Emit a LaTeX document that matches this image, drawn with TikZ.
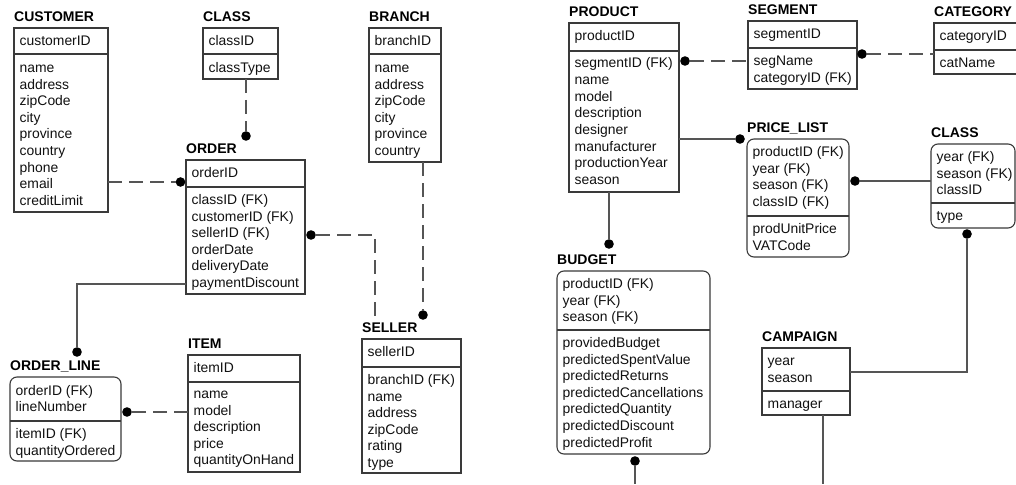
\documentclass[tikz,border=0pt]{standalone}
\usepackage{fontspec}
\setmainfont{Liberation Sans}
\definecolor{boxc}{HTML}{3A3A3A}
\definecolor{linec}{HTML}{555555}
\definecolor{txtc}{HTML}{111111}
\tikzset{
  ent/.style={draw=boxc, line width=1.1pt, inner sep=0pt, outer sep=0pt, anchor=north west},
  rent/.style={ent, rounded corners=7pt},
  lbl/.style={inner sep=0pt, anchor=base west, text=txtc, font=\fontsize{13.9}{16.6}\selectfont},
  ttl/.style={lbl, text=black, font=\bfseries\fontsize{14}{16}\selectfont},
  erdot/.style={circle, fill=black, draw=none, inner sep=0pt, minimum size=9.6pt},
  conn/.style={draw=linec, line width=1.2pt},
  dconn/.style={conn, dash pattern=on 14pt off 7pt},
  divline/.style={draw=boxc, line width=1.1pt}
}
\newcommand\erentity[8]{%
  \node[#8, minimum width={(#4-#2)*1pt}, minimum height={(#6-#3)*1pt}] (#1) at ({#2},{#3}) {};
  \draw[divline] ({#2},{#5}) -- ({#4},{#5});
  \node[ttl] (#1-title) at ({#2},{#3-6.5}) {#7};
}
\newcommand\errows[4]{%
  \foreach \rowtxt [count=\rowidx from 0] in {#4} {%
    \node[lbl] (#1\rowidx) at ({#2+5.5},{#3+\rowidx*16.6}) {\rowtxt};
  }%
}
\begin{document}
\begin{tikzpicture}[x=1pt, y=-1pt]
\useasboundingbox (0,0) rectangle (1016,484);
\fill[white] (0,0) rectangle (1016,484);
\clip (0,0) rectangle (1016,484);

% ---------- left diagram ----------
\erentity{customer}{14}{28}{108}{54}{212}{CUSTOMER}{ent}
\errows{customer-k}{14}{45.5}{customerID}
\errows{customer-a}{14}{72.5}{name,address,zipCode,city,province,country,phone,email,creditLimit}

\erentity{classA}{203}{28}{278}{54}{79}{CLASS}{ent}
\errows{classA-k}{203}{45.5}{classID}
\errows{classA-a}{203}{72.5}{classType}

\erentity{branch}{369}{28}{441}{54}{162}{BRANCH}{ent}
\errows{branch-k}{369}{45.5}{branchID}
\errows{branch-a}{369}{72.5}{name,address,zipCode,city,province,country}

\erentity{order}{186}{160}{305}{187}{294}{ORDER}{ent}
\errows{order-k}{186}{177.5}{orderID}
\errows{order-a}{186}{204.5}{classID (FK),customerID (FK),sellerID (FK),orderDate,deliveryDate,paymentDiscount}

\erentity{seller}{362}{339}{461}{367}{473}{SELLER}{ent}
\errows{seller-k}{362}{356.5}{sellerID}
\errows{seller-a}{362}{384.5}{branchID (FK),name,address,zipCode,rating,type}

\erentity{orderline}{10}{377}{121}{421}{461}{ORDER\_LINE}{rent}
\errows{orderline-k}{10}{395}{orderID (FK),lineNumber}
\errows{orderline-a}{10}{438.5}{itemID (FK),quantityOrdered}

\erentity{item}{188}{355}{300}{382}{472}{ITEM}{ent}
\errows{item-k}{188}{372.5}{itemID}
\errows{item-a}{188}{398.5}{name,model,description,price,quantityOnHand}

% ---------- right diagram ----------
\erentity{product}{569}{23}{679}{51}{192}{PRODUCT}{ent}
\errows{product-k}{569}{40.5}{productID}
\errows{product-a}{569}{68}{segmentID (FK),name,model,description,designer,manufacturer,productionYear,season}

\erentity{segment}{748}{21}{857}{48}{89}{SEGMENT}{ent}
\errows{segment-k}{748}{38.5}{segmentID}
\errows{segment-a}{748}{65.5}{segName,categoryID (FK)}

\erentity{category}{934}{23}{1024}{50}{74}{CATEGORY}{ent}
\errows{category-k}{934}{40.5}{categoryID}
\errows{category-a}{934}{67.5}{catName}

\erentity{pricelist}{747}{139}{849}{216}{257}{PRICE\_LIST}{rent}
\errows{pricelist-k}{747}{156.5}{productID (FK),year (FK),season (FK),classID (FK)}
\errows{pricelist-a}{747}{233.5}{prodUnitPrice,VATCode}

\erentity{classB}{931}{144}{1015}{203}{228}{CLASS}{rent}
\errows{classB-k}{931}{161.5}{year (FK),season (FK),classID}
\errows{classB-a}{931}{220.5}{type}

\erentity{budget}{557}{271}{710}{330}{454}{BUDGET}{rent}
\errows{budget-k}{557}{288.5}{productID (FK),year (FK),season (FK)}
\errows{budget-a}{557}{347.5}{providedBudget,predictedSpentValue,predictedReturns,predictedCancellations,predictedQuantity,predictedDiscount,predictedProfit}

\erentity{campaign}{762}{348}{850}{391}{415}{CAMPAIGN}{ent}
\errows{campaign-k}{762}{365.5}{year,season}
\errows{campaign-a}{762}{408.5}{manager}

% ---------- connectors: left ----------
\node[erdot] (d1) at (246,136) {};
\draw[dconn] (d1 |- classA.south) -- (d1);

\node[erdot] (d2) at (180.5,182) {};
\draw[dconn] (customer.east |- d2) -- (d2);

\node[erdot] (d3) at (311,235) {};
\coordinate (e3) at (375,319);
\draw[dconn] (d3) -| (e3);

\node[erdot] (d4) at (423,315) {};
\draw[dconn] (d4 |- branch.south) -- (d4);

\node[erdot] (d5) at (77,352) {};
\draw[conn] ([yshift=-124pt]order.north west) -| (d5);

\node[erdot] (d6) at (127,412) {};
\draw[dconn] (item.west |- d6) -- (d6);

% ---------- connectors: right ----------
\node[erdot] (d7) at (685,61) {};
\draw[dconn] (d7) -- (segment.west |- d7);

\node[erdot] (d8) at (862,54) {};
\draw[dconn] (d8) -- (category.west |- d8);

\node[erdot] (d9) at (740,139) {};
\draw[conn] (product.east |- d9) -- (d9);

\node[erdot] (d10) at (855,181) {};
\draw[conn] (d10) -- (classB.west |- d10);

\node[erdot] (d11) at (609,244) {};
\draw[conn] (d11 |- product.south) -- (d11);

\node[erdot] (d12) at (635,461) {};
\coordinate (e12) at (635,484);
\draw[conn] (d12) -- (e12);

\node[erdot] (d13) at (967,234) {};
\draw[conn] (d13) |- ([yshift=-24pt]campaign.north east);

\coordinate (e14) at (823,484);
\draw[conn] (e14 |- campaign.south) -- (e14);
\end{tikzpicture}
\end{document}
